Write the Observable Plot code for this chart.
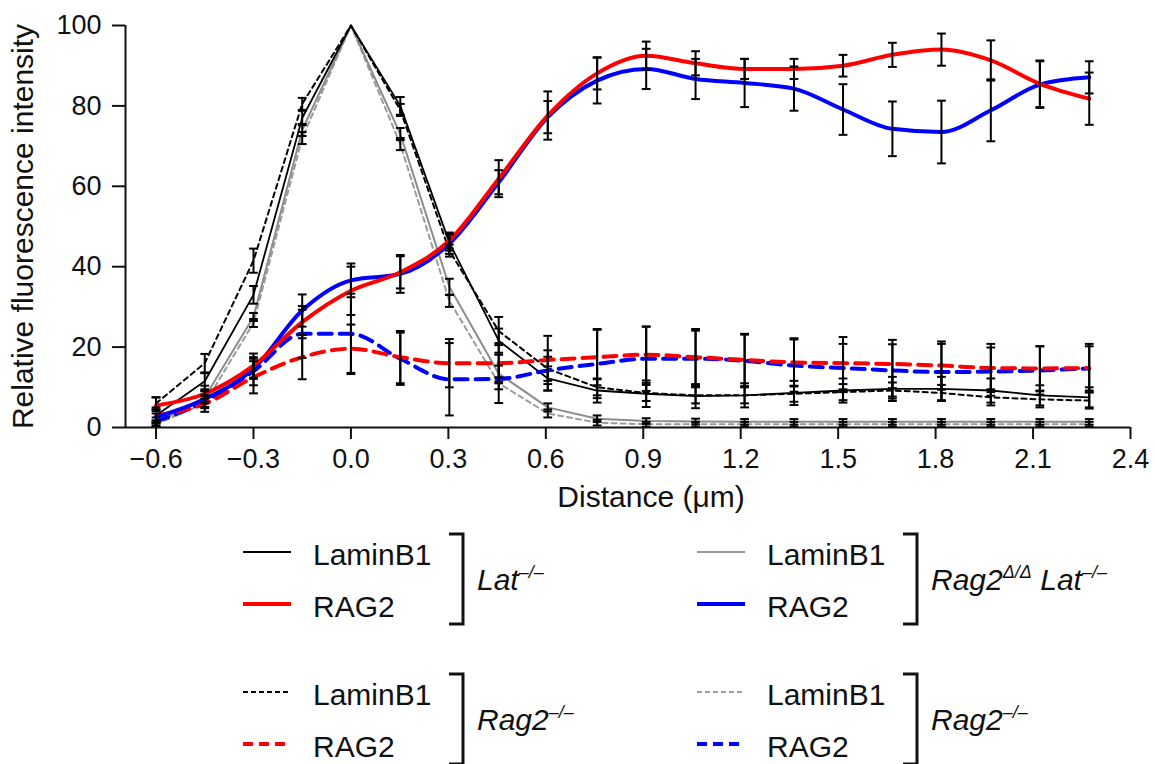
<!DOCTYPE html>
<html><head><meta charset="utf-8">
<script src="https://cdn.jsdelivr.net/npm/d3@7"></script>
<script src="https://cdn.jsdelivr.net/npm/@observablehq/plot@0.6"></script>
<style>
html,body{margin:0;padding:0;background:#fff;}
#chart svg,#legend svg{display:block;}
</style></head><body>
<div id="chart"></div><div id="legend"></div>
<script>
// ---- data ----
const distance = [-0.6, -0.45, -0.3, -0.15, 0, 0.152, 0.303, 0.455, 0.606, 0.758, 0.909, 1.061, 1.212, 1.364, 1.515, 1.667, 1.818, 1.97, 2.121, 2.273];
const xTicks = [-0.6, -0.3, 0, 0.3, 0.6, 0.9, 1.2, 1.5, 1.8, 2.1, 2.4];
const yTicks = [0, 20, 40, 60, 80, 100];

// Lat-/- LaminB1 (black solid)
const latLamin    = [3, 11.5, 33, 77, 100, 80, 46, 21.6, 12.2, 9.2, 8.4, 7.8, 8, 8.6, 9.2, 9.6, 9.6, 9.2, 8, 7.5];
const latLaminErr = [1.5, 2, 2.2, 1.8, 0, 2.2, 2, 3, 3, 3, 3.3, 3, 3, 3, 3, 3, 3, 3, 2.5, 2.5];
// Lat-/- RAG2 (red solid)
const latRag2     = [5.5, 8.4, 15.4, 26.2, 34, 38.6, 46.5, 61.9, 77.6, 88.1, 92.5, 90.6, 89.2, 89.2, 90, 92.7, 94, 91.3, 85.5, 81.8];
const latRag2Err  = [2, 2, 3, 4, 6, 4, 2, 4.6, 6, 4, 3.5, 3, 2.5, 2.5, 2.7, 3, 4, 5, 5.8, 6.5];
// Rag2ΔΔ Lat-/- LaminB1 (grey solid)
const dLatLamin    = [1, 7.5, 27.5, 74, 100, 73, 35, 13.4, 5, 2.2, 1.6, 1.5, 1.4, 1.4, 1.4, 1.4, 1.4, 1.4, 1.4, 1.4];
const dLatLaminErr = [0.8, 1.5, 1, 1.5, 0, 1.5, 2, 2, 1, 0.8, 0.7, 0.7, 0.7, 0.7, 0.7, 0.7, 0.7, 0.7, 0.7, 0.7];
// Rag2ΔΔ Lat-/- RAG2 (blue solid)
const dLatRag2     = [2.6, 7.1, 14.6, 29.1, 36.6, 38.2, 45.7, 61, 77.2, 86.3, 89.2, 86.7, 85.7, 84.3, 79.1, 74.3, 73.5, 78.9, 85.3, 87.1];
const dLatRag2Err  = [1.5, 2, 2.5, 4, 4.2, 4.7, 2.5, 3, 4, 5.7, 5, 5, 6, 5.5, 6.3, 6.8, 7.8, 7.7, 5.8, 4];
// Rag2-/- LaminB1 (black dashed)
const ragLamin    = [6, 16, 41.5, 80.5, 100, 79, 44, 24, 14.6, 10, 8.6, 8, 8, 8.4, 8.8, 9.2, 8.6, 7.5, 7, 6.7];
const ragLaminErr = [1.5, 2.3, 3, 1.5, 0, 1.5, 1.5, 3.5, 3, 2, 2, 2, 2, 2, 2, 2, 2, 2, 2, 2];
// Rag2-/- RAG2 (red dashed)
const ragRag2     = [3, 5.9, 12.5, 17.5, 19.6, 17.5, 16, 16, 16.8, 17.5, 18.1, 17.5, 16.8, 16.2, 16, 15.8, 15.4, 14.8, 14.7, 14.8];
const ragRag2Err  = [2, 2, 4, 5.5, 6, 6.5, 6, 5, 6, 7, 7, 7, 6.5, 6, 6.5, 6, 6, 6, 5.5, 6];
// Rag2-/- LaminB1 (grey dashed)
const rag2Lamin    = [0.8, 6, 26, 72, 100, 70.5, 31.5, 11, 3.5, 1.2, 0.8, 0.8, 0.8, 0.8, 0.8, 0.8, 0.8, 0.8, 0.8, 0.8];
const rag2LaminErr = [0.6, 1.2, 1, 1.5, 0, 1.5, 1.5, 1.5, 1, 0.7, 0.6, 0.6, 0.6, 0.6, 0.6, 0.6, 0.6, 0.6, 0.6, 0.6];
// Rag2-/- RAG2 (blue dashed)
const rag2Rag2     = [1.5, 6.5, 14, 23.3, 23.3, 17.1, 12, 12.1, 14.2, 15.8, 17.1, 17.1, 16.6, 15.4, 14.8, 14.2, 13.8, 13.9, 14.2, 14.7];
const rag2Rag2Err  = [1, 1.5, 3.5, 6, 10, 6.5, 9, 6, 5, 8.5, 8, 7, 6.5, 6.5, 6, 6.5, 7, 6, 6, 5.5];

// ---- styles ----
const series = [
  {key: "rag2Lamin", y: rag2Lamin, err: rag2LaminErr, stroke: "#9b9b9b", width: 2, dash: "5,4", curve: "linear"},
  {key: "dLatLamin", y: dLatLamin, err: dLatLaminErr, stroke: "#8c8c8c", width: 2, dash: null, curve: "linear"},
  {key: "ragLamin", y: ragLamin, err: ragLaminErr, stroke: "#000", width: 2, dash: "5,4", curve: "linear"},
  {key: "latLamin", y: latLamin, err: latLaminErr, stroke: "#000", width: 1.8, dash: null, curve: "linear"},
  {key: "rag2Rag2", y: rag2Rag2, err: rag2Rag2Err, stroke: "#0000ff", width: 4, dash: "13,8", curve: "monotone-x"},
  {key: "ragRag2", y: ragRag2, err: ragRag2Err, stroke: "#ff0000", width: 4, dash: "13,8", curve: "monotone-x"},
  {key: "dLatRag2", y: dLatRag2, err: dLatRag2Err, stroke: "#0000ff", width: 4, dash: null, curve: "monotone-x"},
  {key: "latRag2", y: latRag2, err: latRag2Err, stroke: "#ff0000", width: 4, dash: null, curve: "monotone-x"}
];

const rows = series.flatMap(s => distance.map((x, i) => ({key: s.key, x, y: s.y[i], err: s.err[i]})));
const errRows = rows.filter(r => r.err > 0);
const xMin = -0.694, xMax = 2.4;
const cap = 0.0135;
const FONT = "'Liberation Sans', Arial, Helvetica, sans-serif";

const lineMarks = series.map(s => Plot.line(rows.filter(r => r.key === s.key), {
  x: "x", y: "y", stroke: s.stroke, strokeWidth: s.width,
  strokeDasharray: s.dash || undefined, curve: s.curve
}));

const fmt = d => (d < 0 ? "\u2212" : "") + Math.abs(d).toFixed(1);

const chart = Plot.plot({
  width: 1155, height: 520,
  marginLeft: 125, marginRight: 25, marginTop: 25, marginBottom: 93,
  style: {fontFamily: FONT, fontSize: "27px", color: "#111", background: "#fff"},
  x: {domain: [xMin, xMax], axis: null},
  y: {domain: [0, 100], axis: null},
  marks: [
    ...lineMarks,
    Plot.ruleX(errRows, {x: "x", y1: d => d.y - d.err, y2: d => d.y + d.err, stroke: "#000", strokeWidth: 2}),
    Plot.link(errRows, {x1: d => d.x - cap, x2: d => d.x + cap, y1: d => d.y + d.err, y2: d => d.y + d.err, stroke: "#000", strokeWidth: 2}),
    Plot.link(errRows, {x1: d => d.x - cap, x2: d => d.x + cap, y1: d => d.y - d.err, y2: d => d.y - d.err, stroke: "#000", strokeWidth: 2}),
    Plot.ruleX([xMin], {y1: 0, y2: 100, stroke: "#111", strokeWidth: 2}),
    Plot.ruleY([0], {x1: xMin, x2: xMax, stroke: "#111", strokeWidth: 2}),
    Plot.axisY({ticks: yTicks, tickSize: 13, tickPadding: 11, label: null, fontSize: 27, strokeWidth: 2, anchor: "left"}),
    Plot.axisX({ticks: xTicks, tickSize: 12, tickPadding: 9, label: null, fontSize: 27, strokeWidth: 2, tickFormat: fmt, anchor: "bottom"}),
    Plot.text(["Distance (\u03bcm)"], {text: d => d, frameAnchor: "bottom", dx: 23, dy: 70, lineAnchor: "middle", textAnchor: "middle", fontSize: 30, fill: "#111"}),
    Plot.text(["Relative fluorescence intensity"], {text: d => d, frameAnchor: "left", dx: -102, rotate: -90, textAnchor: "middle", lineAnchor: "middle", fontSize: 30, fill: "#111"})
  ]
});
document.getElementById("chart").appendChild(chart);

// ---- legend ----
const groups = [
  {x: 243, top: 0, entries: [
    {label: "LaminB1", stroke: "#000", width: 2, dash: null},
    {label: "RAG2", stroke: "#ff0000", width: 4, dash: null}],
   title: [["Lat", 0], ["\u2013/\u2013", 1]]},
  {x: 697, top: 0, entries: [
    {label: "LaminB1", stroke: "#9b9b9b", width: 2, dash: null},
    {label: "RAG2", stroke: "#0000ff", width: 4, dash: null}],
   title: [["Rag2", 0], ["\u0394/\u0394", 1], [" Lat", 0], ["\u2013/\u2013", 1]]},
  {x: 243, top: 140, entries: [
    {label: "LaminB1", stroke: "#000", width: 2, dash: "5,3"},
    {label: "RAG2", stroke: "#ff0000", width: 4, dash: "10,6"}],
   title: [["Rag2", 0], ["\u2013/\u2013", 1]]},
  {x: 697, top: 140, entries: [
    {label: "LaminB1", stroke: "#9b9b9b", width: 2, dash: "5,3"},
    {label: "RAG2", stroke: "#0000ff", width: 4, dash: "10,6"}],
   title: [["Rag2", 0], ["\u2013/\u2013", 1]]}
];

const lsvg = d3.create("svg").attr("width", 1155).attr("height", 244)
  .style("font-family", FONT).style("background", "#fff");

groups.forEach(g => {
  const gg = lsvg.append("g").attr("transform", `translate(${g.x},${g.top})`);
  g.entries.forEach((e, i) => {
    const base = 45 + i * 52;
    gg.append("line").attr("x1", 0).attr("x2", 48).attr("y1", base - 13).attr("y2", base - 13)
      .attr("stroke", e.stroke).attr("stroke-width", e.width)
      .attr("stroke-dasharray", e.dash);
    gg.append("text").attr("x", 70).attr("y", base).attr("font-size", 30).attr("fill", "#111").text(e.label);
  });
  gg.append("path").attr("d", "M206,14 H220 V104 H206").attr("fill", "none")
    .attr("stroke", "#111").attr("stroke-width", 3);
  const t = gg.append("text").attr("x", 234).attr("y", 70).attr("font-size", 30)
    .attr("font-style", "italic").attr("fill", "#111");
  let raised = false;
  g.title.forEach(([s, sup]) => {
    const ts = t.append("tspan").text(s);
    if (sup && !raised) { ts.attr("dy", -12).attr("font-size", 18); raised = true; }
    else if (sup) { ts.attr("font-size", 18); }
    else if (!sup && raised) { ts.attr("dy", 12); raised = false; }
  });
});
document.getElementById("legend").appendChild(lsvg.node());
</script>
</body></html>
